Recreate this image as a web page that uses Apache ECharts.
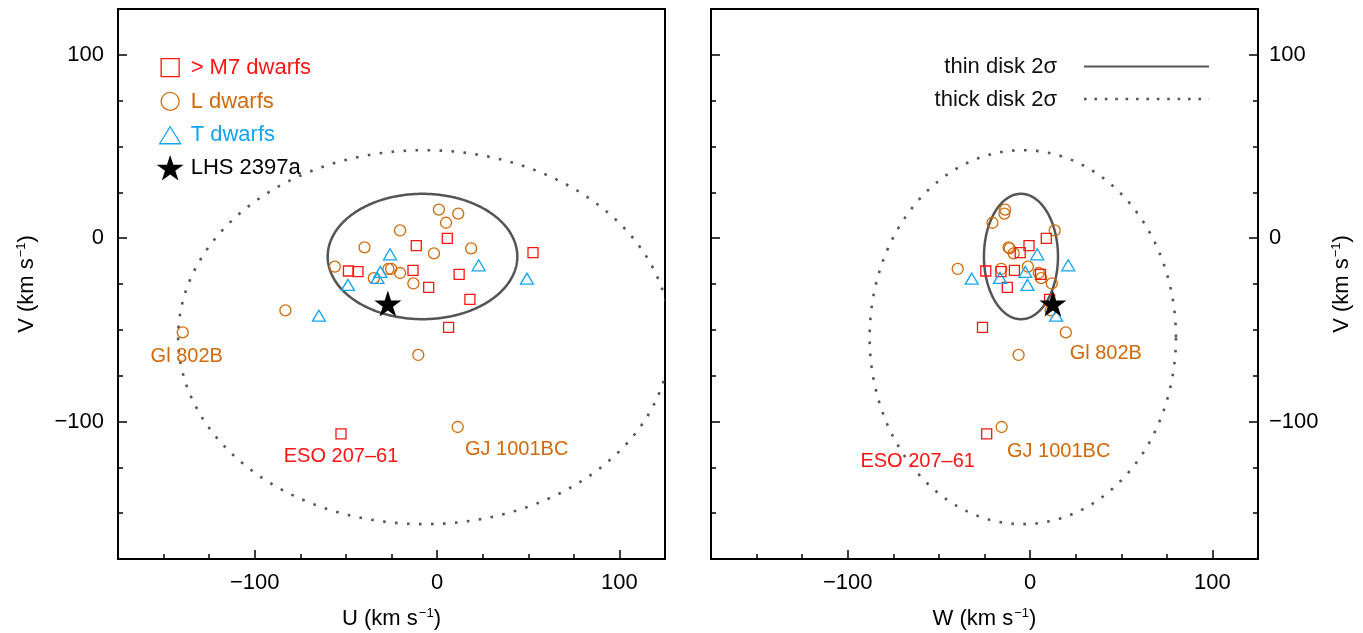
<!DOCTYPE html>
<html><head><meta charset="utf-8">
<script src="https://cdn.jsdelivr.net/npm/echarts@6/dist/echarts.min.js"></script>
<style>html,body{margin:0;padding:0;background:#fff}#c{width:1363px;height:633px}</style>
</head><body><div id="c"></div>
<script>
// ---- data (km/s) ----
const m7U = [5.6, -11.4, 52.6, -48.6, -43.4, -13.2, 12.1, -4.6, 18.0, 6.3, -52.7];
const m7V = [-0.1, -4.1, -7.9, -17.9, -18.3, -17.6, -19.7, -26.8, -33.4, -48.7, -106.8];
const m7W = [8.9, -0.6, -5.4, -24.3, -16.0, -8.6, 5.7, -12.5, 10.7, -26.1, -23.8];

const lU = [1.0, 11.6, 4.9, -20.3, -39.8, -1.7, 18.7, -56.1, -34.7, -26.7, -25.2, -20.3, -13.0, -83.2, -139.5, -10.3, 11.3];
const lV = [15.6, 13.4, 8.4, 4.2, -5.0, -8.3, -5.6, -15.5, -21.8, -16.8, -16.8, -19.0, -24.7, -39.4, -51.4, -63.7, -103.0];
const lW = [-13.7, -14.1, -20.6, 13.5, -11.8, -9.0, -11.2, -1.2, 6.1, -15.8, -39.7, 4.8, 11.9, 11.3, 19.6, -6.3, -15.6];

const tU = [-25.8, 22.8, 49.3, -31.1, -32.7, -48.9, -64.8];
const tV = [-8.8, -14.8, -22.1, -18.4, -21.7, -25.5, -42.3];
const tW = [3.9, 20.9, -32.0, -2.6, -16.5, -1.4, 14.3];

const starU = [-27.0];
const starV = [-35.7];
const starW = [12.5];

// ellipses: [centre, semi-axis]
const thinDiskU = [-8, 52];
const thinDiskV = [-10, 34.2];
const thinDiskW = [-5, 20.3];
const thickDiskU = [-7, 135];
const thickDiskV = [-54, 102];
const thickDiskW = [-4, 84];

const majorTicks = [-100, 0, 100];
const m7Names = {10: 'ESO 207–61'};
const lNames = {14: 'Gl 802B', 16: 'GJ 1001BC'};
const legendNames = ['> M7 dwarfs', 'L dwarfs', 'T dwarfs', 'LHS 2397a'];

// ---- styles ----
const FONT = '"Liberation Sans", Arial, Helvetica, sans-serif';
const RED = '#ff1414', ORANGE = '#d06a0c', BLUE = '#12a6f0', GREY = '#555555';
const STAR = 'path://M12,0.5 L14.59,8.44 L22.94,8.45 L16.18,13.36 L18.76,21.3 L12,16.4 L5.24,21.3 L7.82,13.36 L1.06,8.45 L9.41,8.44 Z';
// legend icons padded inside a 27x27 box
const LG_SQUARE = 'path://M0,0 M27,27 M4.5,4.5 L22.5,4.5 L22.5,22.5 L4.5,22.5 Z';
const LG_CIRCLE = 'path://M0,0 M27,27 M4.5,13.5 A9,9 0 1,0 22.5,13.5 A9,9 0 1,0 4.5,13.5 Z';
const LG_TRI = 'path://M0,0 M27,27 M13.5,5 L24,22 L3,22 Z';
const offLeft = {m7: {10: [0, 23]}, l: {14: [4, 24], 16: [59, 22]}};
const offRight = {m7: {10: [-69, 28]}, l: {14: [40, 21], 16: [57, 24]}};

function fmt(v) { return v < 0 ? '\u2212' + (-v) : String(v); }

function pts(xs, ys, names, offs, color) {
  return xs.map((x, i) => {
    const item = {value: [x, ys[i]]};
    if (names[i]) {
      item.label = {show: true, formatter: names[i], position: 'inside', offset: offs[i],
        color: color, opacity: 1, fontSize: 20, fontFamily: FONT};
    }
    return item;
  });
}

function ellipse(name, xi, yi, ex, ey, dashed) {
  return {
    type: 'custom', name: name, xAxisIndex: xi, yAxisIndex: yi, clip: true, silent: true, z: 1,
    data: [[ex[0], ey[0], ex[1], ey[1]]],
    encode: {x: 0, y: 1},
    renderItem: function (params, api) {
      const cx = api.value(0), cy = api.value(1), a = api.value(2), b = api.value(3);
      const points = [];
      for (let k = 0; k <= 360; k++) {
        const t = k * Math.PI / 180;
        points.push(api.coord([cx + a * Math.cos(t), cy + b * Math.sin(t)]));
      }
      return {type: 'polyline', shape: {points: points},
        style: {stroke: GREY, fill: null, lineWidth: dashed ? 2.6 : 2.5,
          lineDash: dashed ? [2.6, 9.4] : null}};
    }
  };
}

function hollow(color) {
  return {color: 'rgba(0,0,0,0)', borderColor: color, borderWidth: 1.3, opacity: 1};
}

function panel(xi, yi, xs, offs) {
  return [
    ellipse('thick', xi, yi, xs.thick, thickDiskV, true),
    ellipse('thin', xi, yi, xs.thin, thinDiskV, false),
    {type: 'scatter', name: legendNames[1], xAxisIndex: xi, yAxisIndex: yi, symbol: 'circle', symbolSize: 11,
      itemStyle: hollow(ORANGE), data: pts(xs.l, lV, lNames, offs.l, ORANGE), z: 3},
    {type: 'scatter', name: legendNames[0], xAxisIndex: xi, yAxisIndex: yi, symbol: 'rect', symbolSize: 10,
      itemStyle: hollow(RED), data: pts(xs.m7, m7V, m7Names, offs.m7, RED), z: 3},
    {type: 'scatter', name: legendNames[2], xAxisIndex: xi, yAxisIndex: yi, symbol: 'triangle', symbolSize: [13, 11],
      itemStyle: hollow(BLUE), data: pts(xs.t, tV, {}, {}, BLUE), z: 3},
    {type: 'scatter', name: legendNames[3], xAxisIndex: xi, yAxisIndex: yi, symbol: STAR, symbolSize: [27, 26],
      itemStyle: {color: '#000', opacity: 1}, data: pts(xs.star, starV, {}, {}, '#000'), z: 4}
  ];
}

const labelStyle = {fontSize: 22, fontFamily: FONT, color: '#000'};
const nameStyle = {fontSize: 22, fontFamily: FONT, color: '#000',
  rich: {sup: {fontSize: 13, fontFamily: FONT, color: '#000', verticalAlign: 'top', padding: [0, 0, 10, 1]}}};

function axisPair(kind, grid, position, opts) {
  const base = {type: 'value', gridIndex: grid, position: position, min: -175, max: 125,
    splitLine: {show: false}, axisLine: {show: false, onZero: false}};
  const minor = Object.assign({}, base, {interval: 25,
    axisTick: {show: true, inside: true, length: 5, lineStyle: {color: '#000', width: 1.5}},
    axisLabel: {show: false}});
  const major = Object.assign({}, base, {
    axisTick: {show: true, inside: true, length: 9, customValues: majorTicks, lineStyle: {color: '#000', width: 1.5}},
    axisLabel: Object.assign({show: !!opts.labels, customValues: majorTicks, formatter: fmt, margin: opts.margin || 10}, labelStyle)});
  if (opts.name) {
    Object.assign(major, {name: opts.name, nameLocation: 'middle', nameGap: opts.nameGap,
      nameRotate: opts.nameRotate || 0, nameTextStyle: nameStyle});
  }
  return [minor, major];
}

const chart = echarts.init(document.getElementById('c'));
chart.setOption({
  animation: false,
  backgroundColor: '#fff',
  textStyle: {fontFamily: FONT},
  grid: [
    {left: 118, top: 9, width: 547, height: 550, show: true, borderColor: '#000', borderWidth: 2,
      backgroundColor: 'transparent', containLabel: false, outerBoundsMode: 'none'},
    {left: 711, top: 9, width: 547, height: 550, show: true, borderColor: '#000', borderWidth: 2,
      backgroundColor: 'transparent', containLabel: false, outerBoundsMode: 'none'}
  ],
  xAxis: [].concat(
    axisPair('x', 0, 'bottom', {labels: true, margin: 13, name: 'U (km s{sup|\u22121})', nameGap: 48}),
    axisPair('x', 1, 'bottom', {labels: true, margin: 13, name: 'W (km s{sup|\u22121})', nameGap: 48})
  ),
  yAxis: [].concat(
    axisPair('y', 0, 'left', {labels: true, margin: 14, name: 'V (km s{sup|\u22121})', nameGap: 80, nameRotate: 90}),
    axisPair('y', 1, 'left', {labels: false}),
    axisPair('y', 1, 'right', {labels: true, margin: 11, name: 'V (km s{sup|\u22121})', nameGap: 72, nameRotate: 90})
  ),
  legend: [{
    orient: 'vertical', left: 156, top: 53.5, padding: 0, itemWidth: 27, itemHeight: 27, itemGap: 5.5,
    selectedMode: false,
    textStyle: {fontSize: 22, fontFamily: FONT, padding: [0, 0, 0, 2]},
    data: [
      {name: legendNames[0], icon: LG_SQUARE, itemStyle: hollow(RED), textStyle: {color: RED}},
      {name: legendNames[1], icon: LG_CIRCLE, itemStyle: hollow(ORANGE), textStyle: {color: ORANGE}},
      {name: legendNames[2], icon: LG_TRI, itemStyle: hollow(BLUE), textStyle: {color: BLUE}},
      {name: legendNames[3], icon: STAR, itemStyle: {color: '#000'}, textStyle: {color: '#000'}}
    ]
  }],
  graphic: [
    {type: 'text', x: 1057, y: 67, style: {text: 'thin disk 2σ', align: 'right', verticalAlign: 'middle',
      fontSize: 22, fontFamily: FONT, fill: '#111'}},
    {type: 'text', x: 1057, y: 100, style: {text: 'thick disk 2σ', align: 'right', verticalAlign: 'middle',
      fontSize: 22, fontFamily: FONT, fill: '#111'}},
    {type: 'line', shape: {x1: 1084, y1: 66.5, x2: 1209, y2: 66.5}, style: {stroke: GREY, lineWidth: 2.2}},
    {type: 'line', shape: {x1: 1084, y1: 99, x2: 1209, y2: 99}, style: {stroke: GREY, lineWidth: 2.4, lineDash: [2.6, 7.8]}}
  ],
  series: [].concat(
    panel(0, 0, {l: lU, m7: m7U, t: tU, star: starU, thin: thinDiskU, thick: thickDiskU}, offLeft),
    panel(2, 2, {l: lW, m7: m7W, t: tW, star: starW, thin: thinDiskW, thick: thickDiskW}, offRight)
  )
});
</script>
</body></html>
